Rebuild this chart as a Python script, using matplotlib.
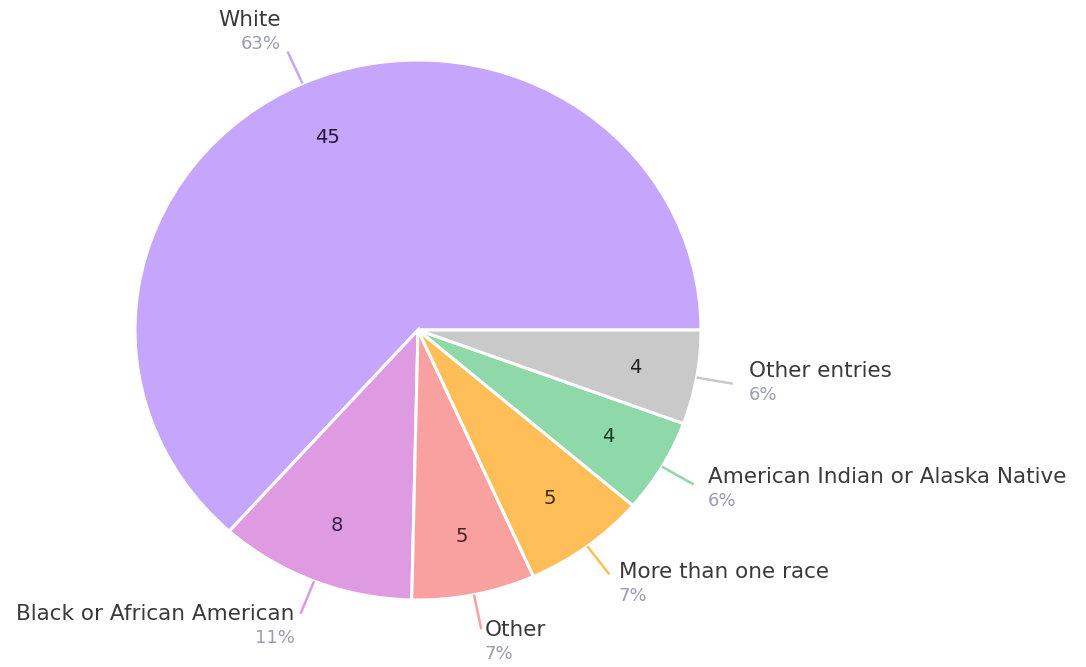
import numpy as np
import matplotlib.pyplot as plt

labels = ["White", "Black or African American", "Other", "More than one race",
          "American Indian or Alaska Native", "Other entries"]
counts = [45, 8, 5, 5, 4, 4]
colors = ["#C5A6FC", "#DE9BE2", "#F9A1A1", "#FFBE57", "#8ED8A9", "#C9C9C9"]
num_colors = ["#1E1630", "#3E1F48", "#4A2222", "#3E2A05", "#163A24", "#222222"]

fig = plt.figure(figsize=(10.86, 6.67), dpi=100)
ax = fig.add_axes([0, 0, 1, 1])

wedges, _ = ax.pie(counts, colors=colors, startangle=0, counterclock=True,
                   wedgeprops=dict(edgecolor="white", linewidth=2.2))

# pie is a little wider than tall
ax.set_aspect('auto')
ax.set_xlim(-418 / 283, (1086 - 418) / 283)
ax.set_ylim(-337 / 270, 330 / 270)
ax.axis('off')

total = sum(counts)
for w, lab, n, col, ncol in zip(wedges, labels, counts, colors, num_colors):
    ang = np.deg2rad((w.theta1 + w.theta2) / 2)
    c, s = np.cos(ang), np.sin(ang)

    # value inside the slice
    ax.text(0.78 * c, 0.78 * s, str(n), ha='center', va='center',
            fontsize=14, color=ncol)

    # leader line
    x0, y0 = 1.0 * c, 1.0 * s
    x1, y1 = 1.13 * c, 1.13 * s
    ax.plot([x0, x1], [y0, y1], color=col, lw=1.8, solid_capstyle='butt')

    ha = 'left' if c > 0 else 'right'
    dx = 16 * c
    dy = 16 + 17 * s
    pct = f"{round(100 * n / total)}%"
    ax.annotate(lab, xy=(x1, y1), xytext=(dx, dy), textcoords='offset pixels',
                ha=ha, va='center', fontsize=15.5, color="#3A3A3A")
    ax.annotate(pct, xy=(x1, y1), xytext=(dx, dy - 24), textcoords='offset pixels',
                ha=ha, va='center', fontsize=13, color="#9C9CB2")

fig.savefig("out.png", dpi=100)
